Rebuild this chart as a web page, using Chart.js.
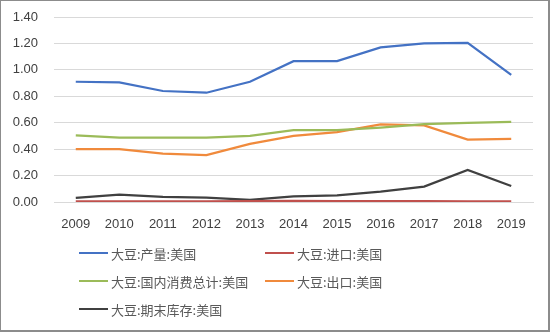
<!DOCTYPE html>
<html>
<head>
<meta charset="utf-8">
<script src="https://cdn.jsdelivr.net/npm/chart.js@4/dist/chart.umd.min.js"></script>
<style>
  html, body { margin: 0; padding: 0; background: #fff; }
  #wrap { position: relative; width: 550px; height: 332px; overflow: hidden; }
  #c { position: absolute; left: 0; top: 0; }
  #frame { position: absolute; left: 0; top: 0; width: 550px; height: 332px; box-sizing: border-box;
    border-top: 1px solid #8c8c8c; border-left: 1px solid #8c8c8c; border-right: 2px solid #8c8c8c; border-bottom: 2px solid #8c8c8c; pointer-events: none; }
  .lg { position: absolute; height: 20px; display: flex; align-items: center; font-family: "Noto Sans CJK SC", sans-serif; font-size: 13px; color: #595959; white-space: nowrap; }
  .lg i { display: inline-block; width: 29px; height: 2.5px; margin-right: 3px; }
</style>
</head>
<body>
<div id="wrap">
  <canvas id="c" width="550" height="332"></canvas>
  <div id="legend"></div>
  <div id="frame"></div>
</div>
<script>
const years = ['2009','2010','2011','2012','2013','2014','2015','2016','2017','2018','2019'];
const seriesNames = ['大豆:产量:美国','大豆:进口:美国','大豆:国内消费总计:美国','大豆:出口:美国','大豆:期末库存:美国'];
const production  = [0.91, 0.905, 0.84, 0.827, 0.91, 1.066, 1.066, 1.17, 1.20, 1.205, 0.962];
const imports     = [0.004, 0.004, 0.004, 0.004, 0.006, 0.008, 0.007, 0.006, 0.006, 0.004, 0.004];
const consumption = [0.505, 0.487, 0.487, 0.487, 0.50, 0.543, 0.543, 0.563, 0.59, 0.598, 0.606];
const exportsArr  = [0.40, 0.40, 0.366, 0.355, 0.44, 0.50, 0.528, 0.588, 0.58, 0.472, 0.477];
const endStocks   = [0.032, 0.055, 0.038, 0.033, 0.017, 0.043, 0.05, 0.078, 0.116, 0.242, 0.121];
const yTicks = [0, 0.2, 0.4, 0.6, 0.8, 1.0, 1.2, 1.4];
const colors = ['#4472C4', '#C0504D', '#9BBB59', '#F08A3C', '#404040'];
const values = [production, imports, consumption, exportsArr, endStocks];

const datasets = values.map((v, i) => ({
  label: seriesNames[i], data: v, borderColor: colors[i], backgroundColor: colors[i],
  borderWidth: 2.25, pointRadius: 0, tension: 0, fill: false
}));
const font = { family: '"Liberation Sans", Arial, sans-serif', size: 13 };
new Chart(document.getElementById('c'), {
  type: 'line',
  data: { labels: years, datasets },
  options: {
    responsive: false, animation: false,
    layout: { padding: { left: 0, right: 17, top: 17, bottom: 100 } },
    plugins: { legend: { display: false }, tooltip: { enabled: false } },
    scales: {
      x: {
        offset: true,
        grid: { display: false, drawTicks: false },
        border: { display: true, color: '#d9d9d9', width: 1 },
        ticks: { color: '#404040', font, padding: 15, maxRotation: 0, autoSkip: false },
        afterFit: s => { s.height = 30; s.paddingLeft = 0; s.paddingRight = 0; }
      },
      y: {
        min: 0, max: 1.4,
        afterBuildTicks: s => { s.ticks = yTicks.map(v => ({ value: v })); },
        grid: { color: '#d9d9d9', lineWidth: 1, drawTicks: false },
        border: { display: false },
        ticks: { color: '#404040', font, padding: 16, callback: v => Number(v).toFixed(2) },
        afterFit: s => { s.width = 54; s.paddingTop = 0; s.paddingBottom = 0; }
      }
    }
  }
});

const legendPos = [[79, 243], [265, 243], [79, 271], [265, 271], [79, 299]];
const lg = document.getElementById('legend');
seriesNames.forEach((n, i) => {
  const d = document.createElement('div');
  d.className = 'lg';
  d.style.left = legendPos[i][0] + 'px';
  d.style.top = legendPos[i][1] + 'px';
  d.innerHTML = '<i style="background:' + colors[i] + '"></i><span></span>';
  d.querySelector('span').textContent = n;
  lg.appendChild(d);
});
</script>
</body>
</html>
